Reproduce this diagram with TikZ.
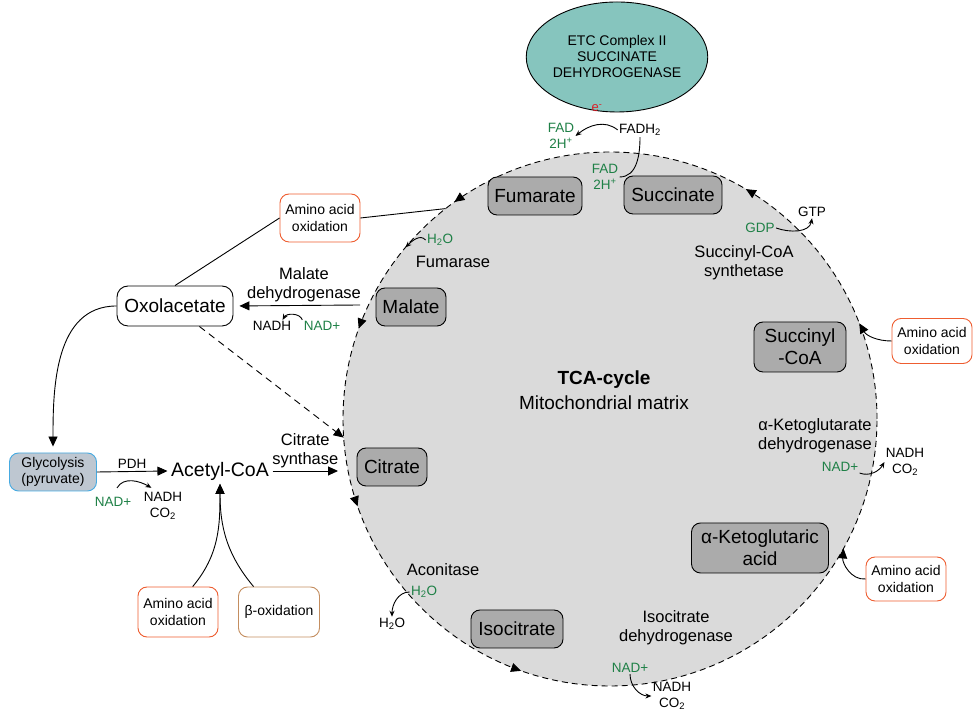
\documentclass[tikz,border=0pt]{standalone}
\usepackage{fontspec}
\setmainfont{Liberation Sans}
\usetikzlibrary{arrows.meta,shapes.geometric,decorations.markings}

\definecolor{etcteal}{RGB}{134,197,190}
\definecolor{cyclegray}{RGB}{218,218,218}
\definecolor{metabgray}{RGB}{171,171,171}
\definecolor{cofgreen}{RGB}{30,128,70}
\definecolor{aaorange}{RGB}{238,93,48}
\definecolor{betabrown}{RGB}{196,142,96}
\definecolor{glycfill}{RGB}{190,199,209}
\definecolor{glycblue}{RGB}{70,170,225}
\definecolor{ered}{RGB}{220,30,40}

\tikzset{
  metab/.style={draw, fill=metabgray, rounded corners=9pt, align=center, inner sep=2pt, minimum height=38pt, font=\fontsize{19}{22}\selectfont},
  feed/.style={draw=aaorange, fill=white, rounded corners=9pt, align=center, inner sep=2pt, minimum width=80pt, minimum height=48pt, font=\fontsize{14}{17}\selectfont},
  enz/.style={align=center, inner sep=1pt, font=\fontsize{16.5}{19}\selectfont},
  cof/.style={align=center, inner sep=1pt, font=\fontsize{13.5}{16}\selectfont},
  cofin/.style={cof, text=cofgreen},
  bigarr/.style={-{Triangle[length=10pt,width=9pt]}},
  smallarr/.style={-{Stealth[length=6pt,width=5pt]}}
}

\begin{document}
\begin{tikzpicture}[x=1pt,y=1pt,line width=0.9pt]
\useasboundingbox (0,0) rectangle (973,714);

\coordinate (ctr) at (610,295);
\draw[fill=cyclegray, dash pattern=on 6pt off 4pt,
  decoration={markings,
    mark=at position 0.165 with {\arrow{Triangle[length=10pt,width=9pt]}},
    mark=at position 0.349 with {\arrow{Triangle[length=10pt,width=9pt]}},
    mark=at position 0.445 with {\arrow{Triangle[length=10pt,width=9pt]}},
    mark=at position 0.553 with {\arrow{Triangle[length=10pt,width=9pt]}},
    mark=at position 0.696 with {\arrow{Triangle[length=10pt,width=9pt]}}},
  postaction={decorate}] (ctr) circle (267pt);

\node[ellipse, draw, fill=etcteal, minimum width=148pt, minimum height=110pt, inner sep=0pt, align=center, font=\fontsize{14}{16}\selectfont] (etc) at (617,657) {ETC Complex II\\SUCCINATE\\DEHYDROGENASE};
\node[text=ered, inner sep=1pt, font=\fontsize{13}{15}\selectfont] (eminus) at (597,606) {e\textsuperscript{-}};
\node[cofin] (fadup) at (561,578) {FAD\\2H\textsuperscript{+}};
\node[cof] (fadh) at (640,584) {FADH\textsubscript{2}};
\node[cofin] (faddown) at (605,537) {FAD\\2H\textsuperscript{+}};

\node[metab, minimum width=94pt] (fum) at (535,518) {Fumarate};
\node[metab, minimum width=98pt] (suc) at (673,519) {Succinate};
\node[metab, minimum width=70pt] (mal) at (411,407) {Malate};
\node[metab, minimum width=92pt, minimum height=50pt] (scoa) at (800,367) {Succinyl\\-CoA};
\node[metab, minimum width=70pt] (cit) at (392,247) {Citrate};
\node[metab, minimum width=137pt, minimum height=50pt] (akg) at (760,166) {α-Ketoglutaric\\acid};
\node[metab, minimum width=92pt] (iso) at (517,85) {Isocitrate};

\node[font=\fontsize{19}{22}\selectfont\bfseries] (tca) at (604,334) {TCA-cycle};
\node[font=\fontsize{19}{22}\selectfont] (matrix) at (604,311) {Mitochondrial matrix};

\node[draw, fill=white, rounded corners=11pt, minimum width=116pt, minimum height=40pt, font=\fontsize{19}{22}\selectfont] (oxo) at (175,408) {Oxolacetate};
\node[draw=glycblue, fill=glycfill, rounded corners=9pt, minimum width=87pt, minimum height=38pt, align=center, font=\fontsize{14}{16}\selectfont] (glyc) at (53,242) {Glycolysis\\(pyruvate)};
\node[font=\fontsize{19.5}{22}\selectfont] (acoa) at (220,243) {Acetyl-CoA};

\node[feed] (aaox1) at (320,496) {Amino acid\\oxidation};
\node[feed, minimum height=45pt] (aaox2) at (932,373) {Amino acid\\oxidation};
\node[feed, minimum height=44pt] (aaox3) at (906,135) {Amino acid\\oxidation};
\node[feed, minimum height=50pt] (aaox4) at (178,102) {Amino acid\\oxidation};
\node[feed, draw=betabrown, minimum width=81pt, minimum height=50pt] (beta) at (279,102) {β-oxidation};

\node[enz] (fumase) at (453,452) {Fumarase};
\node[cofin] (h2ofum) at (440,474) {H\textsubscript{2}O};
\node[enz] (mdh) at (304,429) {Malate\\dehydrogenase};
\node[cof] (nadhmdh) at (272,388) {NADH};
\node[cofin] (nadmdh) at (322,388) {NAD+};
\node[cofin] (nadpdh) at (113,212) {NAD+};
\node[cof] (nadhpdh) at (163,208) {NADH\\CO\textsubscript{2}};
\node[enz] (acon) at (443,144) {Aconitase};
\node[cofin] (h2oac) at (424,122) {H\textsubscript{2}O};
\node[cof] (h2oout) at (392,90) {H\textsubscript{2}O};
\node[enz] (idh) at (676,86) {Isocitrate\\dehydrogenase};
\node[cofin] (nadidh) at (630,46) {NAD+};
\node[cof] (nadhidh) at (672,18) {NADH\\CO\textsubscript{2}};
\node[enz] (akgdh) at (815,278) {α-Ketoglutarate\\dehydrogenase};
\node[cofin] (nadakg) at (840,247) {NAD+};
\node[cof] (nadhakg) at (905,252) {NADH\\CO\textsubscript{2}};
\node[enz] (scs) at (744,451) {Succinyl-CoA\\synthetase};
\node[cofin] (gdp) at (760,486) {GDP};
\node[cof] (gtp) at (812,502) {GTP};

\coordinate (aaend) at ([shift={(128:267pt)}]ctr);
\coordinate (aa2end) at ([shift={(21:267pt)}]ctr);
\coordinate (aa3end) at ([shift={(331:267pt)}]ctr);
\coordinate (citin) at ([shift={(184:267pt)}]ctr);
\coordinate (fumin) at ([shift={(140:267pt)}]ctr);
\coordinate (mdhstart) at (360,409);
\coordinate (csend) at (338,243);

\draw (aaox1.east) -- (aaend);
\draw (oxo.north) -- (aaox1.west);
\draw[bigarr] (aaox2.west) to[out=180, in=-60] (aa2end);
\draw[bigarr] (aaox3.west) to[out=185, in=-95] (aa3end);

\draw[bigarr, shorten >=6pt] (mdhstart) -- (oxo.east);
\draw[smallarr] (nadmdh.north west) to[out=110, in=60] ([xshift=-10pt]nadhmdh.north east);
\draw[bigarr, dash pattern=on 7pt off 5pt] (oxo.-40) -- (citin);
\draw[bigarr, shorten >=6pt] (oxo.west) to[out=180, in=90] (glyc.north);

\draw[bigarr] (glyc.east) -- node[cof, above=2pt] (pdh) {PDH} (acoa.west);
\draw[smallarr] ([shift={(4pt,8pt)}]nadpdh.north) to[out=60, in=150] ([shift={(9pt,3pt)}]nadhpdh.north west);
\draw[bigarr] (acoa.east) -- node[enz, above=2pt] (cs) {Citrate\\synthase} (csend);
\draw[bigarr] (aaox4.60) to[out=50, in=-90] (acoa.south);
\draw[bigarr] (beta.135) to[out=130, in=-90] (acoa.south);

\draw[smallarr] (fadh.west) to[out=140, in=40] (fadup.east);
\draw (fadh.south) to[out=-90, in=0] (faddown.east);
\draw[smallarr] (h2ofum.west) to[out=130, in=45] (fumin);
\draw[smallarr] (h2oac.west) to[out=180, in=90] (h2oout.north);
\draw[smallarr] (nadidh.south) to[out=-90, in=180] (nadhidh.west);
\draw[smallarr] (nadakg.south east) to[out=-20, in=-120] (nadhakg.west);
\draw[smallarr] (gdp.east) to[out=-20, in=-100] (gtp.south);
\end{tikzpicture}
\end{document}
